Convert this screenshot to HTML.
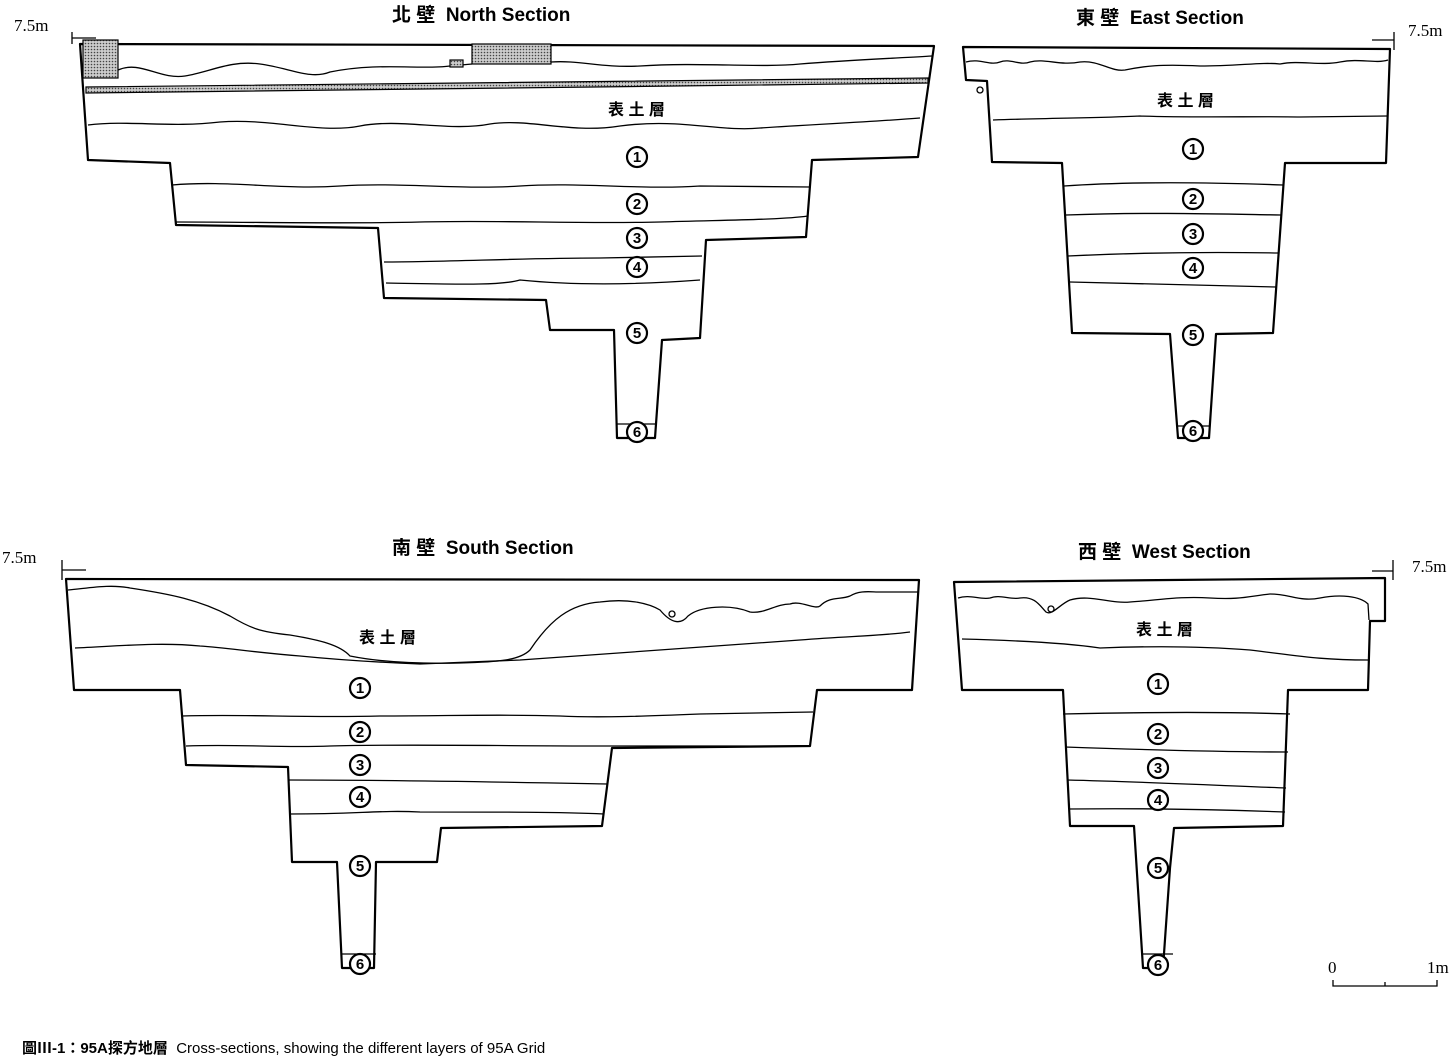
<!DOCTYPE html>
<html><head><meta charset="utf-8"><style>
html,body{margin:0;padding:0;background:#fff;}
svg{display:block;}
.t{font-family:"Liberation Sans","Noto Sans CJK TC",sans-serif;font-weight:bold;font-size:19px;}
.m{font-family:"Liberation Serif",serif;font-size:17px;}
.c{font-family:"Liberation Sans","Noto Sans CJK TC",sans-serif;font-weight:bold;font-size:16px;}
.n{font-family:"Liberation Sans",sans-serif;font-size:15px;font-weight:bold;text-anchor:middle;}
</style></head><body>
<svg width="1455" height="1060" viewBox="0 0 1455 1060" xmlns="http://www.w3.org/2000/svg">
<defs>
<pattern id="dots" width="3" height="3" patternUnits="userSpaceOnUse"><rect width="3" height="3" fill="#ccc"/><circle cx="1.5" cy="1.5" r="0.8" fill="#444"/></pattern>
<g id="num"><circle r="10" fill="#fff" stroke="#000" stroke-width="2.2"/></g>
</defs>
<g fill="none" stroke="#000" stroke-width="2.2" stroke-linejoin="round">
<path d="M80,44 L934,46 L918,157 L812,160 L806,237 L706,240 L700,338 L662,340 L655,438 L617,438 L614,330 L550,330 L546,300 L384,298 L378,228 L176,225 L170,163 L88,160 Z"/>
<path d="M963,47 L1390,49 L1386,163 L1285,163 L1273,333 L1216,334 L1209,438 L1178,438 L1170,334 L1072,333 L1062,163 L992,162 L987,81 L966,80 Z"/>
<path d="M66,579 L919,580 L912,690 L817,690 L810,746 L612,748 L602,826 L441,828 L437,862 L376,862 L374,968 L342,968 L337,862 L292,862 L288,767 L186,765 L180,690 L74,690 Z"/>
<path d="M954,582 L1385,578 L1385,621 L1370,621 L1368,690 L1288,690 L1283,826 L1174,828 L1170,868 L1163,968 L1143,968 L1134,826 L1070,826 L1063,690 L962,690 Z"/>
</g>
<g fill="none" stroke="#000" stroke-width="1.3">
<path d="M118,70 C140,60 160,80 185,76 C210,72 230,60 260,64 C290,68 310,80 330,72 C380,62 420,70 450,66 L472,64 M551,62 C580,60 600,68 640,66 C700,62 760,68 800,64 C850,60 900,58 932,56"/>
<path d="M88,125 C130,120 170,128 220,122 C270,118 320,134 360,126 C400,118 450,132 490,124 C530,118 570,134 620,126 C680,118 720,132 760,128 C820,124 870,122 920,118"/>
<path d="M172,185 C230,180 280,190 340,186 C400,182 460,190 520,186 C580,182 640,190 700,186 L810,187"/>
<path d="M176,222 C260,222 340,224 420,222 C500,220 580,224 660,222 C720,220 780,220 808,216"/>
<path d="M384,262 C450,262 520,258 600,258 L702,256"/>
<path d="M386,283 C450,284 500,286 520,280 C560,284 620,286 700,280"/>
<path d="M617,424 L655,424"/>
<path d="M966,62 C980,58 990,66 1000,62 C1010,58 1020,66 1030,62 C1045,58 1060,66 1080,62 C1100,60 1110,72 1125,70 C1145,66 1160,64 1200,66 C1240,66 1260,62 1280,64 C1300,60 1320,66 1340,62 C1360,58 1375,64 1388,60"/>
<path d="M993,120 C1050,118 1100,118 1140,116 C1200,118 1260,116 1300,117 L1387,116"/>
<path d="M1064,186 C1120,182 1200,182 1283,185"/>
<path d="M1066,215 C1150,212 1220,214 1281,215"/>
<path d="M1068,256 C1150,252 1220,252 1279,253"/>
<path d="M1070,282 C1150,284 1220,286 1276,287"/>
<path d="M1177,426 L1210,426"/>
<path d="M68,590 C90,588 110,584 130,588 C170,594 200,600 230,616 C250,628 260,632 290,635 C320,640 340,645 350,656 C380,662 420,664 460,663 C500,662 520,660 530,650 C550,620 570,604 600,602 C630,598 650,604 660,610 C670,622 680,626 688,616 C700,606 730,604 750,612 C765,614 775,604 790,604 C800,600 815,610 820,606 C830,596 840,600 850,596 C860,590 870,592 880,592 L918,592"/>
<path d="M75,648 C120,646 160,642 200,646 C230,648 250,652 300,656 C340,660 370,662 420,664 L520,660 C600,654 700,648 800,640 C850,636 880,636 910,632"/>
<path d="M182,716 C250,714 300,718 380,716 C450,716 500,714 560,716 C600,718 650,716 700,714 L813,712"/>
<path d="M186,746 C240,744 280,748 330,746 C400,744 500,746 600,746 L810,746"/>
<path d="M288,780 C400,780 500,782 608,784"/>
<path d="M290,814 C360,814 380,810 420,812 C500,812 560,812 604,814"/>
<path d="M341,954 L376,954"/>
<path d="M958,598 C970,594 980,600 990,598 C1000,594 1010,600 1020,598 C1035,596 1040,606 1046,612 C1052,616 1060,604 1070,600 C1090,594 1110,604 1130,602 C1160,600 1180,596 1210,598 C1240,600 1250,596 1270,594 C1290,594 1300,602 1320,598 C1340,594 1360,596 1368,604 L1369,620"/>
<circle cx="1051" cy="609" r="3"/>
<path d="M962,639 C1000,640 1060,642 1100,648 C1150,646 1200,646 1250,650 C1300,656 1320,660 1368,660"/>
<path d="M1063,714 C1150,712 1230,712 1290,714"/>
<path d="M1065,747 C1150,750 1230,752 1288,752"/>
<path d="M1067,780 C1150,782 1230,786 1286,788"/>
<path d="M1069,809 C1150,808 1230,810 1285,812"/>
<path d="M1143,954 L1173,954"/>
<circle cx="980" cy="90" r="3"/>
<circle cx="672" cy="614" r="3"/>
</g>
<g stroke="#000" stroke-width="1.2" fill="url(#dots)">
<rect x="83" y="40" width="35" height="38"/>
<rect x="472" y="44" width="79" height="20"/>
<rect x="450" y="60" width="13" height="7"/>
<path d="M86,87 L928,78 L928,83 L86,93 Z"/>
</g>
<g stroke="#000" stroke-width="1.3" fill="none">
<path d="M72,32 L72,44 M72,38 L96,38"/>
<path d="M1394,32 L1394,50 M1372,40 L1394,40"/>
<path d="M62,560 L62,580 M62,570 L86,570"/>
<path d="M1393,560 L1393,580 M1372,571 L1393,571"/>
<path d="M1333,980 L1333,986 L1437,986 L1437,980 M1385,982 L1385,986"/>
</g>
<g class="m">
<text x="14" y="31">7.5m</text>
<text x="1408" y="36">7.5m</text>
<text x="2" y="563">7.5m</text>
<text x="1412" y="572">7.5m</text>
<text x="1328" y="973">0</text>
<text x="1427" y="973">1m</text>
</g>
<g class="t">
<text x="392" y="21">北 壁&#160;&#160;North Section</text>
<text x="1076" y="24">東 壁&#160;&#160;East Section</text>
<text x="392" y="554">南 壁&#160;&#160;South Section</text>
<text x="1078" y="558">西 壁&#160;&#160;West Section</text>
</g>
<g class="c">
<text x="608" y="115">表 土 層</text>
<text x="1157" y="106">表 土 層</text>
<text x="359" y="643">表 土 層</text>
<text x="1136" y="635">表 土 層</text>
</g>
<g>
<use href="#num" x="637" y="157"/><use href="#num" x="637" y="204"/><use href="#num" x="637" y="238"/><use href="#num" x="637" y="267"/><use href="#num" x="637" y="333"/><use href="#num" x="637" y="432"/>
<use href="#num" x="1193" y="149"/><use href="#num" x="1193" y="199"/><use href="#num" x="1193" y="234"/><use href="#num" x="1193" y="268"/><use href="#num" x="1193" y="335"/><use href="#num" x="1193" y="431"/>
<use href="#num" x="360" y="688"/><use href="#num" x="360" y="732"/><use href="#num" x="360" y="765"/><use href="#num" x="360" y="797"/><use href="#num" x="360" y="866"/><use href="#num" x="360" y="964"/>
<use href="#num" x="1158" y="684"/><use href="#num" x="1158" y="734"/><use href="#num" x="1158" y="768"/><use href="#num" x="1158" y="800"/><use href="#num" x="1158" y="868"/><use href="#num" x="1158" y="965"/>
</g>
<g class="n">
<text x="637" y="162">1</text><text x="637" y="209">2</text><text x="637" y="243">3</text><text x="637" y="272">4</text><text x="637" y="338">5</text><text x="637" y="437">6</text>
<text x="1193" y="154">1</text><text x="1193" y="204">2</text><text x="1193" y="239">3</text><text x="1193" y="273">4</text><text x="1193" y="340">5</text><text x="1193" y="436">6</text>
<text x="360" y="693">1</text><text x="360" y="737">2</text><text x="360" y="770">3</text><text x="360" y="802">4</text><text x="360" y="871">5</text><text x="360" y="969">6</text>
<text x="1158" y="689">1</text><text x="1158" y="739">2</text><text x="1158" y="773">3</text><text x="1158" y="805">4</text><text x="1158" y="873">5</text><text x="1158" y="970">6</text>
</g>
<text x="22" y="1053" style="font-family:'Liberation Sans','Noto Sans CJK TC',sans-serif;font-size:15px;"><tspan font-weight="bold">圖Ⅲ-1：95A探方地層</tspan>&#160;&#160;Cross-sections, showing the different layers of 95A Grid</text>
</svg>
</body></html>
